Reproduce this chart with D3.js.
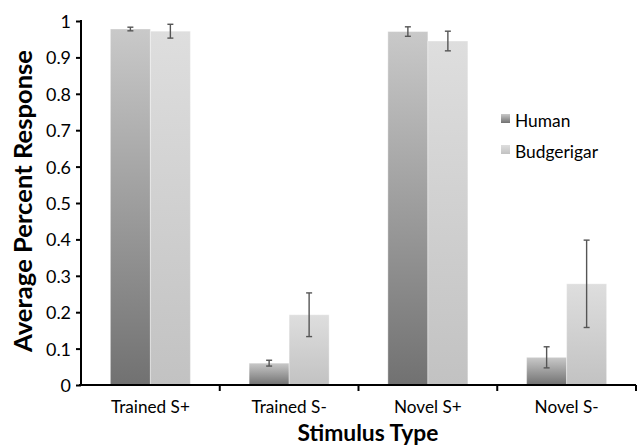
<!DOCTYPE html>
<html>
<head>
<meta charset="utf-8">
<script src="https://cdn.jsdelivr.net/npm/d3@7"></script>
<style>
  html, body { margin: 0; padding: 0; background: #fff; }
  svg text { font-family: Lato, "Open Sans", sans-serif; fill: #000; }
</style>
</head>
<body>
<svg id="chart" width="638" height="446"></svg>
<script>
// Response rates by stimulus type for each subject group
const categories = ["Trained S+", "Trained S-", "Novel S+", "Novel S-"];
const seriesNames = ["Human", "Budgerigar"];
const humanMeans = [0.978, 0.060, 0.971, 0.076];
const humanErrors = [0.005, 0.008, 0.013, 0.029];
const budgieMeans = [0.972, 0.193, 0.945, 0.278];
const budgieErrors = [0.019, 0.060, 0.027, 0.120];
const yTicks = [0, 0.1, 0.2, 0.3, 0.4, 0.5, 0.6, 0.7, 0.8, 0.9, 1];

const rows = categories.map((c, i) => ({
  category: c,
  values: [
    { series: "Human", mean: humanMeans[i], err: humanErrors[i] },
    { series: "Budgerigar", mean: budgieMeans[i], err: budgieErrors[i] }
  ]
}));

const svg = d3.select("#chart");
const plotLeft = 81, plotRight = 636, plotTop = 21, plotBottom = 385;

// Font size that makes a sample string span a given width
function sizeFor(sample, weight, width) {
  const t = svg.append("text").style("font-size", "100px").style("font-weight", weight).text(sample);
  const len = t.node().getComputedTextLength();
  t.remove();
  return (100 * width / len).toFixed(2) + "px";
}
const tickSize = sizeFor("0.9", "normal", 25);
const catSize = sizeFor("Trained S+", "normal", 79);
const legendSize = sizeFor("Budgerigar", "normal", 83);
const yTitleSize = sizeFor("Average Percent Response", "bold", 302);
const xTitleSize = sizeFor("Stimulus Type", "bold", 141);

const y = d3.scaleLinear().domain([0, 1]).range([plotBottom, plotTop]);
const x0 = d3.scaleBand().domain(categories).range([plotLeft, plotRight])
  .paddingInner(0.4235).paddingOuter(0.21175);
const x1 = d3.scaleBand().domain(seriesNames).range([0, x0.bandwidth()]).padding(0);

// Vertical gradients for the bar fills
const defs = svg.append("defs");
const gradStops = {
  Human: ["#c9c9c9", "#717171"],
  Budgerigar: ["#dedede", "#c2c2c2"]
};
seriesNames.forEach(s => {
  const g = defs.append("linearGradient").attr("id", "grad-" + s)
    .attr("x1", 0).attr("y1", 0).attr("x2", 0).attr("y2", 1);
  g.append("stop").attr("offset", "0%").attr("stop-color", gradStops[s][0]);
  g.append("stop").attr("offset", "100%").attr("stop-color", gradStops[s][1]);
});

// Bars
const groups = svg.append("g").selectAll("g").data(rows).join("g")
  .attr("transform", d => `translate(${x0(d.category)},0)`);

groups.selectAll("rect").data(d => d.values).join("rect")
  .attr("x", d => x1(d.series))
  .attr("y", d => y(d.mean))
  .attr("width", x1.bandwidth())
  .attr("height", d => y(0) - y(d.mean))
  .attr("fill", d => `url(#grad-${d.series})`)
  .attr("stroke", "rgba(255,255,255,0.35)")
  .attr("stroke-width", 1);

// Error bars
const eb = groups.selectAll("g.err").data(d => d.values).join("g").attr("class", "err")
  .attr("stroke", "#555").attr("stroke-width", 1.4);
eb.append("line")
  .attr("x1", d => x1(d.series) + x1.bandwidth() / 2)
  .attr("x2", d => x1(d.series) + x1.bandwidth() / 2)
  .attr("y1", d => y(d.mean + d.err))
  .attr("y2", d => y(d.mean - d.err));
[1, -1].forEach(sign => {
  eb.append("line")
    .attr("x1", d => x1(d.series) + x1.bandwidth() / 2 - 3)
    .attr("x2", d => x1(d.series) + x1.bandwidth() / 2 + 3)
    .attr("y1", d => y(d.mean + sign * d.err))
    .attr("y2", d => y(d.mean + sign * d.err));
});

// Y axis
const yAxis = svg.append("g").attr("transform", `translate(${plotLeft},0)`)
  .call(d3.axisLeft(y).tickValues(yTicks).tickFormat(d3.format("~g")).tickSize(5).tickPadding(5));
yAxis.select(".domain").attr("stroke", "#000").attr("stroke-width", 2)
  .attr("d", `M0,${plotBottom + 1}V${plotTop - 1}`);
yAxis.selectAll(".tick line").attr("stroke", "#000").attr("stroke-width", 2);
yAxis.selectAll(".tick text").style("font-size", tickSize).attr("dy", "0.36em");

// X axis with ticks at category boundaries
const xAxis = svg.append("g").attr("transform", `translate(0,${plotBottom})`)
  .call(d3.axisBottom(x0).tickSize(0));
xAxis.select(".domain").attr("stroke", "#000").attr("stroke-width", 2)
  .attr("d", `M${plotLeft - 2},0H${plotRight}`);
xAxis.selectAll(".tick text").style("font-size", catSize).attr("y", 28).attr("dy", 0);
const boundaries = categories.map(c => x0(c) + x0.bandwidth() + x0.step() * x0.paddingOuter());
xAxis.selectAll("line.bound").data(boundaries).join("line").attr("class", "bound")
  .attr("x1", d => d).attr("x2", d => d).attr("y1", 0).attr("y2", 6)
  .attr("stroke", "#000").attr("stroke-width", 2);

// Axis titles
svg.append("text")
  .attr("transform", `translate(32,201) rotate(-90)`)
  .attr("text-anchor", "middle")
  .style("font-size", yTitleSize).style("font-weight", "bold")
  .text("Average Percent Response");
svg.append("text")
  .attr("x", 368).attr("y", 441)
  .attr("text-anchor", "middle")
  .style("font-size", xTitleSize).style("font-weight", "bold")
  .text("Stimulus Type");

// Legend
const legend = svg.append("g").attr("transform", "translate(501,114)");
const li = legend.selectAll("g").data(seriesNames).join("g")
  .attr("transform", (d, i) => `translate(0,${i * 31})`);
li.append("rect").attr("width", 9).attr("height", 9)
  .attr("fill", d => `url(#grad-${d})`);
li.append("text").attr("x", 14).attr("y", 13)
  .style("font-size", legendSize).text(d => d);
</script>
</body>
</html>
